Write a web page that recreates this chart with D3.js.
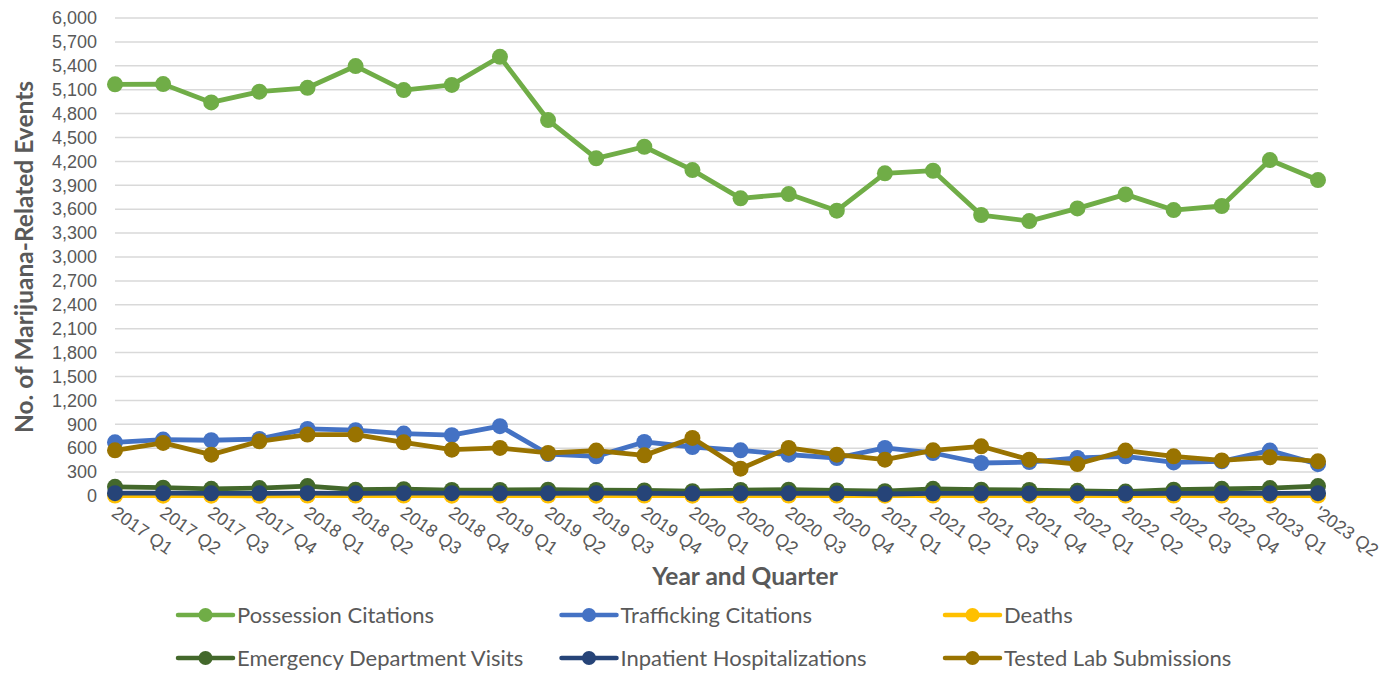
<!DOCTYPE html>
<html>
<head>
<meta charset="utf-8">
<script src="https://cdn.jsdelivr.net/npm/d3@7"></script>
<style>
  body { margin: 0; background: #fff; }
  .tick text { fill: #595959; font-family: "Liberation Sans", Arial, sans-serif; font-size: 18px; }
</style>
</head>
<body>
<script>
// quarters shown along the x axis
var quarters = ["2017 Q1", "2017 Q2", "2017 Q3", "2017 Q4", "2018 Q1", "2018 Q2", "2018 Q3", "2018 Q4",
  "2019 Q1", "2019 Q2", "2019 Q3", "2019 Q4", "2020 Q1", "2020 Q2", "2020 Q3", "2020 Q4",
  "2021 Q1", "2021 Q2", "2021 Q3", "2021 Q4", "2022 Q1", "2022 Q2", "2022 Q3", "2022 Q4",
  "2023 Q1", "'2023 Q2"];

var possession = [5167, 5170, 4940, 5075, 5124, 5397, 5095, 5160, 5513, 4719, 4238, 4384, 4091,
  3736, 3790, 3581, 4050, 4083, 3527, 3451, 3610, 3786, 3589, 3640, 4217, 3966];
var trafficking = [674, 708, 700, 716, 842, 826, 784, 763, 876, 527, 498, 678, 615, 573, 519, 477,
  603, 540, 414, 426, 477, 498, 422, 435, 570, 400];
var deaths = [5, 4, 4, 3, 5, 6, 5, 4, 6, 5, 4, 5, 4, 5, 6, 5, 4, 5, 6, 5, 4, 5, 6, 5, 5, 6];
var emergency = [115, 105, 90, 100, 125, 80, 85, 75, 75, 80, 75, 70, 60, 75, 80, 70, 60, 90, 80, 75,
  65, 55, 80, 90, 100, 125];
var inpatient = [35, 35, 34, 33, 35, 34, 36, 35, 34, 33, 35, 34, 30, 33, 34, 32, 25, 33, 34, 32, 33,
  30, 34, 33, 34, 36];
var labSubmissions = [573, 666, 519, 687, 771, 771, 674, 582, 603, 540, 570, 510, 729, 343, 603,
  519, 456, 573, 624, 456, 401, 570, 498, 447, 485, 435];

var yTicks = d3.range(0, 6001, 300);

var seriesNames = ["Possession Citations", "Trafficking Citations", "Deaths",
  "Emergency Department Visits", "Inpatient Hospitalizations", "Tested Lab Submissions"];
var seriesColors = ["#70AD47", "#4472C4", "#FFC000", "#43682B", "#264478", "#997300"];
var seriesValues = [possession, trafficking, deaths, emergency, inpatient, labSubmissions];

var svgWidth = 1395;
var svgHeight = 673;

var svg = d3.select("body")
    .append("svg")
    .attr("width", svgWidth)
    .attr("height", svgHeight);

var plotLeft = 115, plotRight = 1318, plotTop = 18, plotBottom = 496;

var xScale = d3.scalePoint()
    .domain(quarters)
    .range([plotLeft, plotRight]);

var yScale = d3.scaleLinear()
    .domain([0, 6000])
    .range([plotBottom, plotTop]);

// gridlines
svg.append("g")
    .selectAll("line")
    .data(yTicks)
    .enter()
    .append("line")
    .attr("x1", plotLeft)
    .attr("x2", plotRight)
    .attr("y1", d => yScale(d))
    .attr("y2", d => yScale(d))
    .attr("stroke", "#d9d9d9")
    .attr("stroke-width", 1.5);

// y axis labels
var yAxis = d3.axisLeft(yScale)
    .tickValues(yTicks)
    .tickFormat(d3.format(","))
    .tickSize(0)
    .tickPadding(18);

var yAxisGroup = svg.append("g")
    .attr("transform", `translate(${plotLeft}, 0)`)
    .call(yAxis);
yAxisGroup.select(".domain").remove();

// x axis labels, rotated
var xAxisGroup = svg.append("g");
xAxisGroup.selectAll("text")
    .data(quarters)
    .enter()
    .append("text")
    .attr("transform", d => `translate(${xScale(d) + 3}, 505) rotate(35)`)
    .attr("dy", "0.72em")
    .attr("fill", "#595959")
    .style("font-family", "'Liberation Sans', Arial, sans-serif")
    .style("font-size", "18px")
    .text(d => d);

// series lines and markers
var line = d3.line()
    .x((d, i) => xScale(quarters[i]))
    .y(d => yScale(d));

seriesValues.forEach((values, s) => {
    var g = svg.append("g");
    g.append("path")
        .datum(values)
        .attr("d", line)
        .attr("fill", "none")
        .attr("stroke", seriesColors[s])
        .attr("stroke-width", 4.8)
        .attr("stroke-linejoin", "round");
    g.selectAll("circle")
        .data(values)
        .enter()
        .append("circle")
        .attr("cx", (d, i) => xScale(quarters[i]))
        .attr("cy", d => yScale(d))
        .attr("r", 8)
        .attr("fill", seriesColors[s]);
});

// axis titles
svg.append("text")
    .attr("transform", `translate(33, ${(plotTop + plotBottom) / 2}) rotate(-90)`)
    .attr("text-anchor", "middle")
    .attr("fill", "#595959")
    .style("font-family", "Lato, sans-serif")
    .style("font-weight", "bold")
    .style("font-size", "24.5px")
    .text("No. of Marijuana-Related Events");

svg.append("text")
    .attr("x", 745)
    .attr("y", 585)
    .attr("text-anchor", "middle")
    .attr("fill", "#595959")
    .style("font-family", "Lato, sans-serif")
    .style("font-weight", "bold")
    .style("font-size", "24.5px")
    .text("Year and Quarter");

// legend
var legendGroup = svg.append("g");
seriesNames.forEach((name, i) => {
    var lx = 178 + (i % 3) * 383.5;
    var ly = i < 3 ? 615 : 658;
    var item = legendGroup.append("g")
        .attr("transform", `translate(${lx}, ${ly})`);
    item.append("line")
        .attr("x1", 0)
        .attr("x2", 55)
        .attr("stroke", seriesColors[i])
        .attr("stroke-width", 4.5)
        .attr("stroke-linecap", "round");
    item.append("circle")
        .attr("cx", 27.5)
        .attr("r", 7)
        .attr("fill", seriesColors[i]);
    item.append("text")
        .attr("x", 59)
        .attr("dy", "0.35em")
        .attr("fill", "#595959")
        .style("font-family", "Lato, sans-serif")
        .style("font-size", "22px")
        .text(name);
});
</script>
</body>
</html>
